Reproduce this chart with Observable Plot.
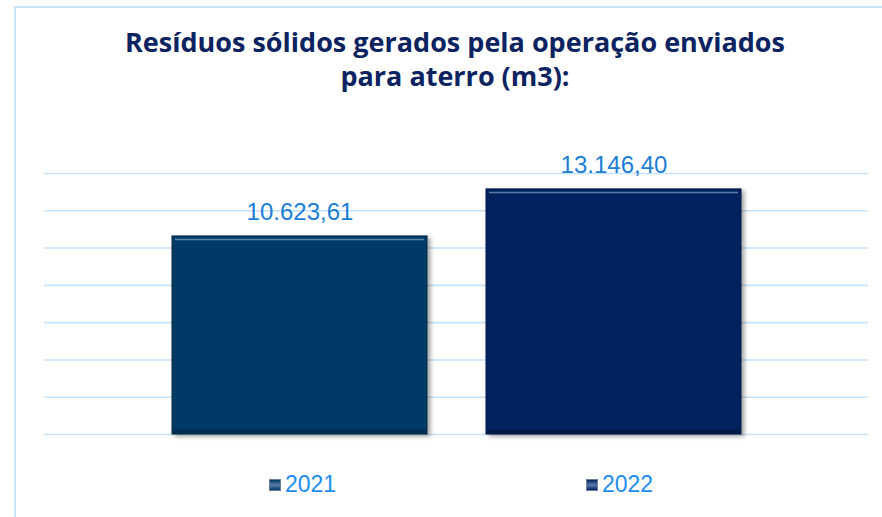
<!DOCTYPE html>
<html>
<head>
<meta charset="utf-8">
<script src="https://cdn.jsdelivr.net/npm/d3@7"></script>
<script src="https://cdn.jsdelivr.net/npm/@observablehq/plot@0.6"></script>
<style>
  html, body { margin: 0; padding: 0; background: #fff; }
  #wrap { position: relative; width: 882px; height: 517px; overflow: hidden; background: #fff; }
  .bt { position: absolute; left: 14px; top: 6px; width: 868px; height: 2px; background: #c9e4f8; }
  .bl { position: absolute; left: 14px; top: 6px; width: 2px; height: 511px; background: #c9e4f8; }
  #title { position: absolute; left: 55px; width: 800px; top: 25px; text-align: center;
           font-family: "Open Sans", Lato, sans-serif; font-weight: 700; font-size: 27px; line-height: 34px; color: #0b2360; }
  #chart { position: absolute; left: 0; top: 110px; }
  .leg { position: absolute; top: 471px; font-family: "Liberation Sans", Arial, sans-serif; font-size: 23px; color: #1e8cec; line-height: 26px; }
  .sw { display: inline-block; width: 12px; height: 12px; margin-right: 4px; vertical-align: 1px; box-sizing: border-box; border: 1px solid #6b7f96; }
</style>
</head>
<body>
<div id="wrap">
  <div class="bt"></div><div class="bl"></div>
  <div id="title">Resíduos sólidos gerados pela operação enviados<br>para aterro (m3):</div>
  <div id="chart"></div>
  <div id="legend"></div>
</div>
<script>
const years = ["2021", "2022"];
const values = [10623.61, 13146.40];
const valueLabels = ["10.623,61", "13.146,40"];
const barColors = ["#033a67", "#02215f"];
const edgeColors = ["#012847", "#011545"];
const gridTicks = [0, 2000, 4000, 6000, 8000, 10000, 12000, 14000];

const data = years.map((y, i) => ({year: y, value: values[i], label: valueLabels[i], color: barColors[i], edge: edgeColors[i]}));

const chart = Plot.plot({
  width: 882,
  height: 350,
  marginTop: 63,
  marginBottom: 26,
  marginLeft: 44,
  marginRight: 14,
  x: {domain: years, range: [142.5, 770.5], paddingInner: 0.188, paddingOuter: 0.094, axis: null},
  y: {domain: [0, 14000], axis: null},
  marks: [
    Plot.ruleY(gridTicks, {stroke: "#c6e2f8", strokeWidth: 1.6}),
    Plot.barY(data, {x: "year", y: "value", fill: "color", stroke: "edge", strokeWidth: 1}),
    Plot.tickY(data, {x: "year", y: "value", dy: 3, stroke: "#7f9fc2", strokeOpacity: 0.7, strokeWidth: 1.5, insetLeft: 3, insetRight: 3}),
    Plot.tickY(data, {x: "year", y: 0, dy: -3, stroke: "#000", strokeOpacity: 0.25, strokeWidth: 4, insetLeft: 1, insetRight: 1}),
    Plot.text(data, {x: "year", y: "value", text: "label", dy: -16, lineAnchor: "bottom",
      fill: "#1b7ed4", fontSize: 24, fontFamily: "'Liberation Sans', Arial, sans-serif"})
  ]
});
document.getElementById("chart").appendChild(chart);

// drop shadow on bars
const svg = d3.select(chart);
const defs = svg.insert("defs", ":first-child");
const f = defs.append("filter").attr("id", "sh").attr("x", "-10%").attr("y", "-10%").attr("width", "130%").attr("height", "130%");
f.append("feDropShadow").attr("dx", 3).attr("dy", 2).attr("stdDeviation", 2).attr("flood-color", "#000").attr("flood-opacity", 0.35);
svg.selectAll("g[aria-label=bar] rect").attr("filter", "url(#sh)");

// legend
const legendX = [269, 586];
const leg = document.getElementById("legend");
years.forEach((y, i) => {
  const d = document.createElement("div");
  d.className = "leg";
  d.style.left = legendX[i] + "px";
  const sw = document.createElement("span");
  sw.className = "sw";
  sw.style.background = `linear-gradient(${barColors[i]} 0%, #5a7ea6 50%, ${barColors[i]} 100%)`;
  d.appendChild(sw);
  d.appendChild(document.createTextNode(y));
  leg.appendChild(d);
});
</script>
</body>
</html>
